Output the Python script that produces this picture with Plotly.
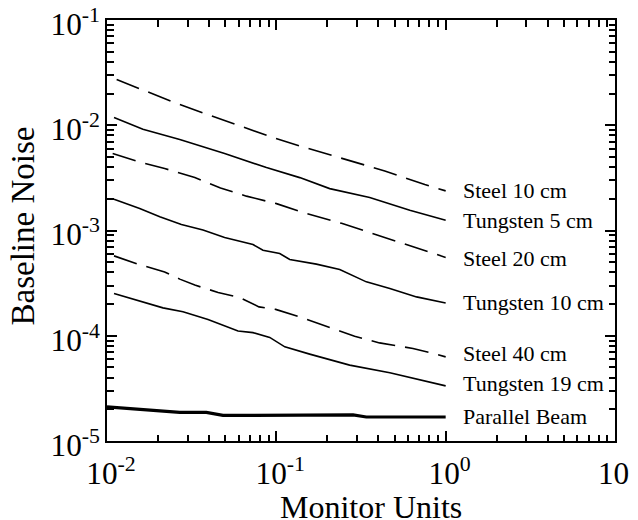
import math
import plotly.graph_objects as go

# ---------------- data ----------------
steel10_x = [0.0114, 0.0162, 0.0246, 0.0390, 0.0666, 0.0957, 0.144, 0.248, 0.437, 0.753, 1.0]
steel10_y = [0.0272, 0.0218, 0.0166, 0.0127, 0.00942, 0.00763, 0.00622, 0.00483, 0.00368, 0.00273, 0.00238]

tung5_x = [0.0110, 0.0163, 0.0269, 0.0495, 0.0874, 0.1375, 0.2066, 0.356, 0.614, 1.0]
tung5_y = [0.01183, 0.00916, 0.00731, 0.00538, 0.00396, 0.00318, 0.00250, 0.00206, 0.00156, 0.00125]

steel20_x = [0.0108, 0.0156, 0.0219, 0.0330, 0.0468, 0.0666, 0.1002, 0.1407, 0.2427, 0.427, 0.673, 1.0]
steel20_y = [0.00538, 0.00448, 0.00388, 0.00319, 0.00254, 0.00212, 0.00180, 0.00150, 0.00117, 0.000869, 0.000690, 0.000555]

tung10_x = [0.0110, 0.0156, 0.0205, 0.0275, 0.0369, 0.0495, 0.0728, 0.0834, 0.1047, 0.120, 0.1724, 0.2368, 0.340, 0.468, 0.673, 1.0]
tung10_y = [0.00198, 0.00162, 0.00135, 0.00114, 0.00101, 0.000858, 0.000736, 0.000650, 0.000605, 0.000531, 0.000479, 0.000426, 0.000325, 0.000281, 0.000234, 0.000205]

steel40_x = [0.0110, 0.01545, 0.0219, 0.0269, 0.0330, 0.0453, 0.0608, 0.0790, 0.0991, 0.1375, 0.2368, 0.290, 0.407, 0.641, 0.805, 1.0]
steel40_y = [0.000574, 0.000476, 0.000404, 0.000345, 0.000303, 0.000258, 0.000231, 0.000188, 0.000178, 0.000151, 0.000111, 0.0000990, 0.0000855, 0.0000757, 0.0000693, 0.0000630]

tung19_x = [0.0110, 0.01493, 0.0214, 0.0281, 0.0395, 0.0594, 0.0728, 0.0914, 0.1122, 0.1574, 0.271, 0.468, 0.805, 1.0]
tung19_y = [0.000252, 0.000218, 0.000184, 0.000169, 0.000143, 0.000111, 0.000107, 0.0000964, 0.0000785, 0.0000669, 0.0000526, 0.0000445, 0.0000365, 0.0000334]

parallel_x = [0.0100, 0.0269, 0.0386, 0.0484, 0.284, 0.340, 1.0]
parallel_y = [0.0000211, 0.0000187, 0.0000187, 0.0000175, 0.0000177, 0.0000169, 0.0000169]

series_names = ["Steel 10 cm", "Tungsten 5 cm", "Steel 20 cm", "Tungsten 10 cm",
                "Steel 40 cm", "Tungsten 19 cm", "Parallel Beam"]
series_x = [steel10_x, tung5_x, steel20_x, tung10_x, steel40_x, tung19_x, parallel_x]
series_y = [steel10_y, tung5_y, steel20_y, tung10_y, steel40_y, tung19_y, parallel_y]

# decade tick labels (hyphen minus, as in the original)
MINUS = "\u2212"
tick_label_alias = {
    "10<sup>" + MINUS + "5</sup>": "10<sup>-5</sup>",
    "10<sup>" + MINUS + "4</sup>": "10<sup>-4</sup>",
    "10<sup>" + MINUS + "3</sup>": "10<sup>-3</sup>",
    "10<sup>" + MINUS + "2</sup>": "10<sup>-2</sup>",
    "10<sup>" + MINUS + "1</sup>": "10<sup>-1</sup>",
    "1": "10<sup>0</sup>",
    "10": "10<sup>1</sup>",
}

# ---------------- styles ----------------
dashes = ["24px,10px", "solid", "24px,10px", "solid", "24px,10px", "solid", "solid"]
widths = [1.6, 1.6, 1.6, 1.6, 1.6, 1.6, 3.2]
label_yshift = [0, 0, -1, 0, 3, 2, 1]
FONT = "Liberation Serif, Times New Roman, serif"

fig = go.Figure()
for name, xs, ys, d, w in zip(series_names, series_x, series_y, dashes, widths):
    fig.add_trace(go.Scatter(x=xs, y=ys, mode="lines", name=name,
                             line=dict(color="black", width=w, dash=d),
                             showlegend=False))

annotations = []
for name, xs, ys, ysh in zip(series_names, series_x, series_y, label_yshift):
    annotations.append(dict(x=math.log10(xs[-1]), y=math.log10(ys[-1]), text=name,
                            showarrow=False, xref="x", yref="y",
                            xanchor="left", yanchor="middle",
                            xshift=15, yshift=ysh,
                            font=dict(family=FONT, size=22, color="black")))

annotations.append(dict(text="Monitor Units", x=0.52, y=0, xref="paper", yref="paper",
                        xanchor="center", yanchor="top", yshift=-46, showarrow=False,
                        font=dict(family=FONT, size=32, color="black")))
annotations.append(dict(text="Baseline Noise", x=0, y=0.5, xref="paper", yref="paper",
                        xanchor="center", yanchor="middle", xshift=-85, yshift=4,
                        textangle=-90, showarrow=False,
                        font=dict(family=FONT, size=33, color="black")))

axis_common = dict(
    type="log", showgrid=False, zeroline=False,
    showline=True, linecolor="black", linewidth=2, mirror="allticks",
    ticks="inside", ticklen=10, tickwidth=2, tickcolor="black",
    tickmode="linear", tick0=0, dtick=1, exponentformat="power",
    labelalias=tick_label_alias, ticklabeloverflow="allow",
    tickfont=dict(family=FONT, size=25, color="black"),
    minor=dict(ticks="inside", ticklen=6.5, tickwidth=1.6, tickcolor="black",
               dtick="D1", showgrid=False),
)

fig.update_xaxes(**axis_common, range=[-2, 1], ticklabelshift=4, ticklabelstandoff=5)
fig.update_yaxes(**axis_common, range=[-5, -1], ticklabelshift=4)

# the page body adds an 8px offset; figure sized so the plot box lands at 107..615 x 20..441
fig.update_layout(
    width=630, height=512,
    margin=dict(l=99, r=23, t=12, b=79, autoexpand=False),
    paper_bgcolor="white", plot_bgcolor="white",
    annotations=annotations,
    font=dict(family=FONT, color="black"),
)

fig.write_html("out.html")
